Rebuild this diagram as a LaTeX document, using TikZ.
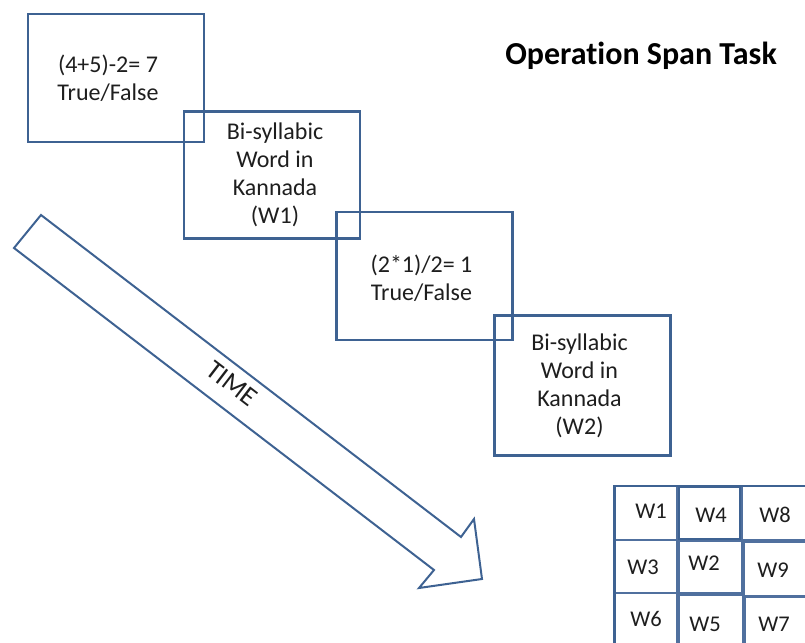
\documentclass[tikz,border=0pt]{standalone}
\usepackage{fontspec}
\setmainfont{Carlito}[Ligatures=NoCommon]
\definecolor{boxblue}{RGB}{62,98,146}
\definecolor{cellblue}{RGB}{80,112,158}
\definecolor{txt}{RGB}{30,30,30}
\begin{document}
\begin{tikzpicture}[x=1pt,y=-1pt,
  trialbox/.style={draw=boxblue,line width=2.4pt,minimum width=176pt,inner sep=0pt},
  boxtext/.style={align=center,text=txt,font=\fontsize{24}{28}\selectfont,inner sep=0pt},
  cell/.style={draw=cellblue,line width=1.6pt},
  celltext/.style={text=txt,font=\fontsize{22.5}{24}\selectfont,inner sep=0pt},
  timearrow/.style={draw=boxblue,line width=2pt,line join=miter}]
\useasboundingbox (0,0) rectangle (805,642);
% trial boxes (transparent, overlapping)
\node[trialbox,minimum height=128pt] (q1) at (116,78) {};
\node[trialbox,minimum height=127pt] (w1) at (272,175) {};
\node[trialbox,minimum height=128pt] (q2) at (424.5,276) {};
\node[trialbox,minimum height=140pt] (w2) at (582.5,385.5) {};
\node[boxtext] (q1t) at ([xshift=-8pt]q1.center) {(4+5)-2= 7\\True/False};
\node[boxtext] (w1t) at ([xshift=3pt]w1.center) {Bi-syllabic\\Word in\\Kannada\\(W1)};
\node[boxtext] (q2t) at ([xshift=-3pt,yshift=-2pt]q2.center) {(2*1)/2= 1\\True/False};
\node[boxtext] (w2t) at ([xshift=-3pt]w2.center) {Bi-syllabic\\Word in\\Kannada\\(W2)};
% title
\node[font=\fontsize{32}{36}\selectfont\bfseries,text=black,inner sep=0pt] (title) at (641,56) {Operation Span Task};
% time arrow
\coordinate (a1) at (41,215);
\coordinate (a2) at (461,537);
\coordinate (a3) at (474,519);
\coordinate (a4) at (482,579);
\coordinate (a5) at (419,588);
\coordinate (a6) at (434,570);
\coordinate (a7) at (14,248);
\draw[timearrow] (a1) -- (a2) -- (a3) -- (a4) -- (a5) -- (a6) -- (a7) -- cycle;
\node[font=\fontsize{27}{30}\selectfont,text=txt,rotate=-37.5,inner sep=0pt] (time) at (232,384) {TIME};
% recall grid
\begin{scope}
\clip (600,470) rectangle (805,642);
\draw[cell] (614,486) rectangle (677,540);
\draw[draw=boxblue,line width=2.6pt] (679,487) rectangle (740,539);
\draw[cell] (742,486) rectangle (812,540);
\draw[cell] (614,540) rectangle (677,593);
\draw[cell] (679,541) rectangle (742,593);
\draw[cell] (744,542) rectangle (812,596);
\draw[cell] (614,593) rectangle (677,652);
\draw[cell] (679,595) rectangle (743,652);
\draw[cell] (745,597) rectangle (812,652);
\draw[draw=boxblue,line width=2.6pt] (614.5,652) -- (614.5,486) -- (812,486);
\end{scope}
\node[celltext] (c1) at (651,511) {W1};
\node[celltext] (c4) at (711,515) {W4};
\node[celltext] (c8) at (775,515) {W8};
\node[celltext] (c3) at (643,567) {W3};
\node[celltext] (c2) at (704,563) {W2};
\node[celltext] (c9) at (773,570) {W9};
\node[celltext] (c6) at (646,619) {W6};
\node[celltext] (c5) at (705,624) {W5};
\node[celltext] (c7) at (774,624) {W7};
\end{tikzpicture}
\end{document}
